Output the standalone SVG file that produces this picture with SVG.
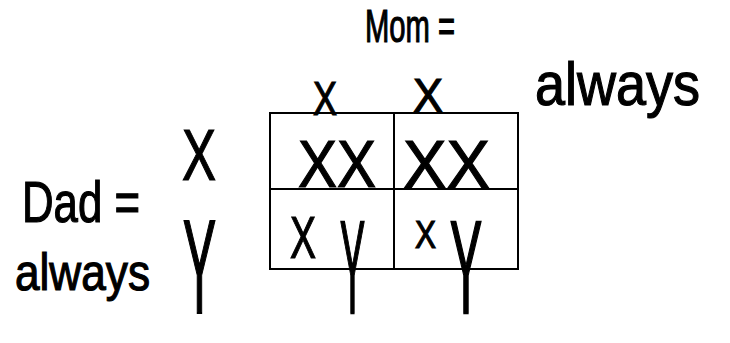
<svg xmlns="http://www.w3.org/2000/svg" width="730" height="343" viewBox="0 0 730 343">
<style>
.h{font-family:"Liberation Sans",Arial,sans-serif;fill:#000;stroke:#000;stroke-width:1.2;}
.g{fill:none;stroke:#000;stroke-width:2;}
</style>
<rect width="730" height="343" fill="#fff"/>
<g id="grid">
<rect class="g" x="270" y="113" width="248" height="156"/>
<line class="g" x1="394" y1="113" x2="394" y2="269"/>
<line class="g" x1="270" y1="189" x2="518" y2="189"/>
</g>
<g id="mom">
<text class="h" x="365" y="42" font-size="46" textLength="90" lengthAdjust="spacingAndGlyphs">Mom =</text>
<text class="h" x="535" y="105" font-size="62" textLength="165" lengthAdjust="spacingAndGlyphs">always</text>
<text class="h" x="313" y="115" font-size="49" textLength="24" lengthAdjust="spacingAndGlyphs">X</text>
<text class="h" x="413" y="112" font-size="49" textLength="30" lengthAdjust="spacingAndGlyphs">X</text>
</g>
<g id="dad">
<text class="h" x="22" y="222" font-size="58" textLength="118" lengthAdjust="spacingAndGlyphs">Dad =</text>
<text class="h" x="15" y="290" font-size="52" textLength="135" lengthAdjust="spacingAndGlyphs">always</text>
<text class="h" x="182" y="180" font-size="72" textLength="34" lengthAdjust="spacingAndGlyphs">X</text>
<text class="h" transform="translate(183,313) scale(1,1.85)" x="0" y="0" font-size="72" textLength="33" lengthAdjust="spacingAndGlyphs">Y</text>
</g>
<g id="cells">
<text class="h" x="298" y="187" font-size="66" textLength="78" lengthAdjust="spacingAndGlyphs">XX</text>
<text class="h" x="403" y="188" font-size="68" textLength="87" lengthAdjust="spacingAndGlyphs">XX</text>
<text class="h" x="290" y="258" font-size="60" textLength="26" lengthAdjust="spacingAndGlyphs">X</text>
<text class="h" transform="translate(340,313) scale(1,2.2)" x="0" y="0" font-size="60" textLength="25" lengthAdjust="spacingAndGlyphs">Y</text>
<text class="h" x="415" y="248" font-size="38" textLength="21" lengthAdjust="spacingAndGlyphs">X</text>
<text class="h" transform="translate(450,313) scale(1,2.2)" x="0" y="0" font-size="60" textLength="32" lengthAdjust="spacingAndGlyphs">Y</text>
</g>
</svg>
